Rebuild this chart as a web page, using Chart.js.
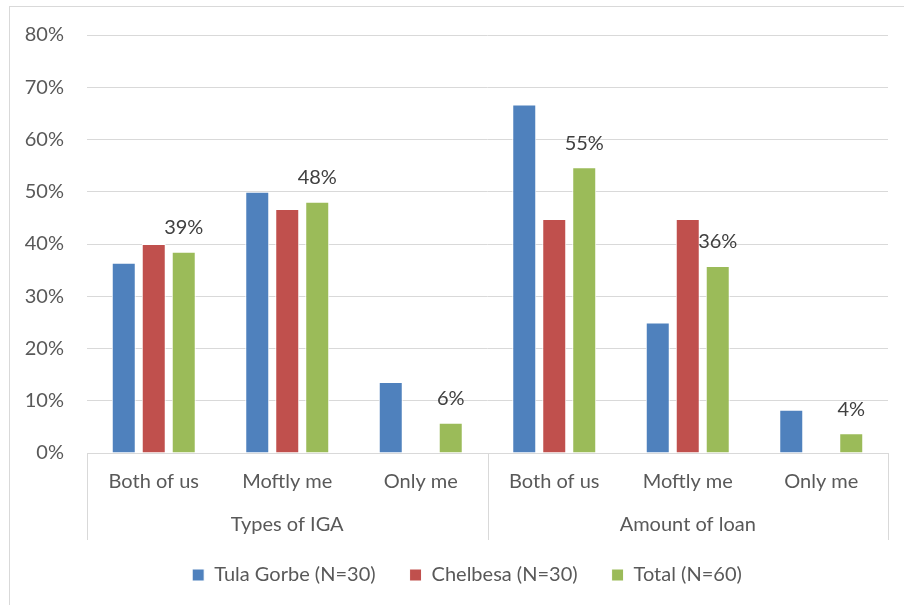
<!DOCTYPE html>
<html>
<head>
<meta charset="utf-8">
<script src="https://cdn.jsdelivr.net/npm/chart.js@4.4.1/dist/chart.umd.min.js"></script>
<style>
    html, body { margin: 0; padding: 0; background: #fff; }
    #wrap { position: relative; width: 904px; height: 605px; overflow: hidden; }
    #frame { position: absolute; left: 9px; top: 6px; width: 1000px; height: 700px;
             border-top: 1px solid #d9d9d9; border-left: 1px solid #d9d9d9; }
    canvas { position: absolute; left: 0; top: 0; }
</style>
</head>
<body>
<div id="wrap">
    <div id="frame"></div>
    <canvas id="chart" width="904" height="605"></canvas>
</div>
<script>
const categories = ['Both of us', 'Moftly me', 'Only me', 'Both of us', 'Moftly me', 'Only me'];
const groups = ['Types of IGA', 'Amount of loan'];
const tulaGorbe = [36.4, 50.0, 13.6, 66.7, 25.0, 8.3];
const chelbesa = [40.0, 46.7, 0, 44.8, 44.8, 0];
const total = [38.5, 48.1, 5.8, 54.7, 35.8, 3.8];
const totalLabels = ['39%', '48%', '6%', '55%', '36%', '4%'];
const yTicks = [0, 10, 20, 30, 40, 50, 60, 70, 80];

const FONT = 'Lato, "Open Sans", sans-serif';
const TEXT = '#595959';

// vertical separators under the axis: left edge, between the two groups, right edge
const groupLines = {
    id: 'groupLines',
    afterDraw(chart) {
        const ctx = chart.ctx;
        const g = chart.scales.groups;
        const area = chart.chartArea;
        const xs = [area.left, (area.left + area.right) / 2, area.right];
        ctx.save();
        ctx.strokeStyle = '#d9d9d9';
        ctx.lineWidth = 1;
        xs.forEach((px) => {
            const p = Math.round(px) + 0.5;
            ctx.beginPath();
            ctx.moveTo(p, area.bottom);
            ctx.lineTo(p, g.bottom - 1);
            ctx.stroke();
        });
        ctx.restore();
    },
};

const totalValueLabels = {
    id: 'totalValueLabels',
    afterDatasetsDraw(chart) {
        const ctx = chart.ctx;
        const meta = chart.getDatasetMeta(2);
        ctx.save();
        ctx.font = '20px ' + FONT;
        ctx.fillStyle = '#404040';
        ctx.textAlign = 'center';
        ctx.textBaseline = 'bottom';
        meta.data.forEach((bar, i) => {
            ctx.fillText(totalLabels[i], bar.x, bar.y - 14);
        });
        ctx.restore();
    },
};

// legend sits a bit right of the canvas centre and closer to the axis labels
const legendShift = {
    id: 'legendShift',
    afterLayout(chart) {
        const lg = chart.legend;
        lg.left += 46;
        lg.top -= 10;
        lg.bottom -= 10;
    },
};

new Chart(document.getElementById('chart'), {
    type: 'bar',
    data: {
        labels: categories,
        datasets: [
            { label: 'Tula Gorbe (N=30)', data: tulaGorbe, backgroundColor: '#4f81bd' },
            { label: 'Chelbesa (N=30)', data: chelbesa, backgroundColor: '#c0504d' },
            { label: 'Total (N=60)', data: total, backgroundColor: '#9bbb59' },
        ].map((d) => Object.assign(d, {
            borderColor: '#ffffff',
            borderWidth: 1,
            categoryPercentage: 0.674,
            barPercentage: 0.8,
        })),
    },
    options: {
        responsive: false,
        animation: false,
        layout: { padding: { left: 0, right: 16, top: 24, bottom: 0 } },
        scales: {
            y: {
                min: 0,
                max: 80,
                afterBuildTicks: (scale) => { scale.ticks = yTicks.map((v) => ({ value: v })); },
                afterFit: (scale) => { scale.width = 87; },
                ticks: {
                    callback: (v) => v + '%',
                    color: TEXT,
                    font: { family: FONT, size: 20 },
                    padding: 23,
                },
                grid: { color: '#d9d9d9', drawTicks: false },
                border: { display: false },
            },
            x: {
                afterFit: (scale) => { scale.height = 43; },
                ticks: { color: TEXT, font: { family: FONT, size: 20 }, padding: 9, maxRotation: 0 },
                grid: { display: false },
                border: { color: '#d9d9d9' },
            },
            groups: {
                type: 'category',
                position: 'bottom',
                labels: groups,
                offset: true,
                afterFit: (scale) => { scale.height = 45; },
                ticks: { color: TEXT, font: { family: FONT, size: 20 }, padding: 9, maxRotation: 0 },
                grid: { display: false },
                border: { display: false },
            },
        },
        plugins: {
            legend: {
                position: 'bottom',
                labels: {
                    color: TEXT,
                    font: { family: FONT, size: 20 },
                    boxWidth: 12,
                    boxHeight: 12,
                    padding: 34,
                },
            },
            tooltip: { enabled: false },
        },
    },
    plugins: [groupLines, totalValueLabels, legendShift],
});
</script>
</body>
</html>
